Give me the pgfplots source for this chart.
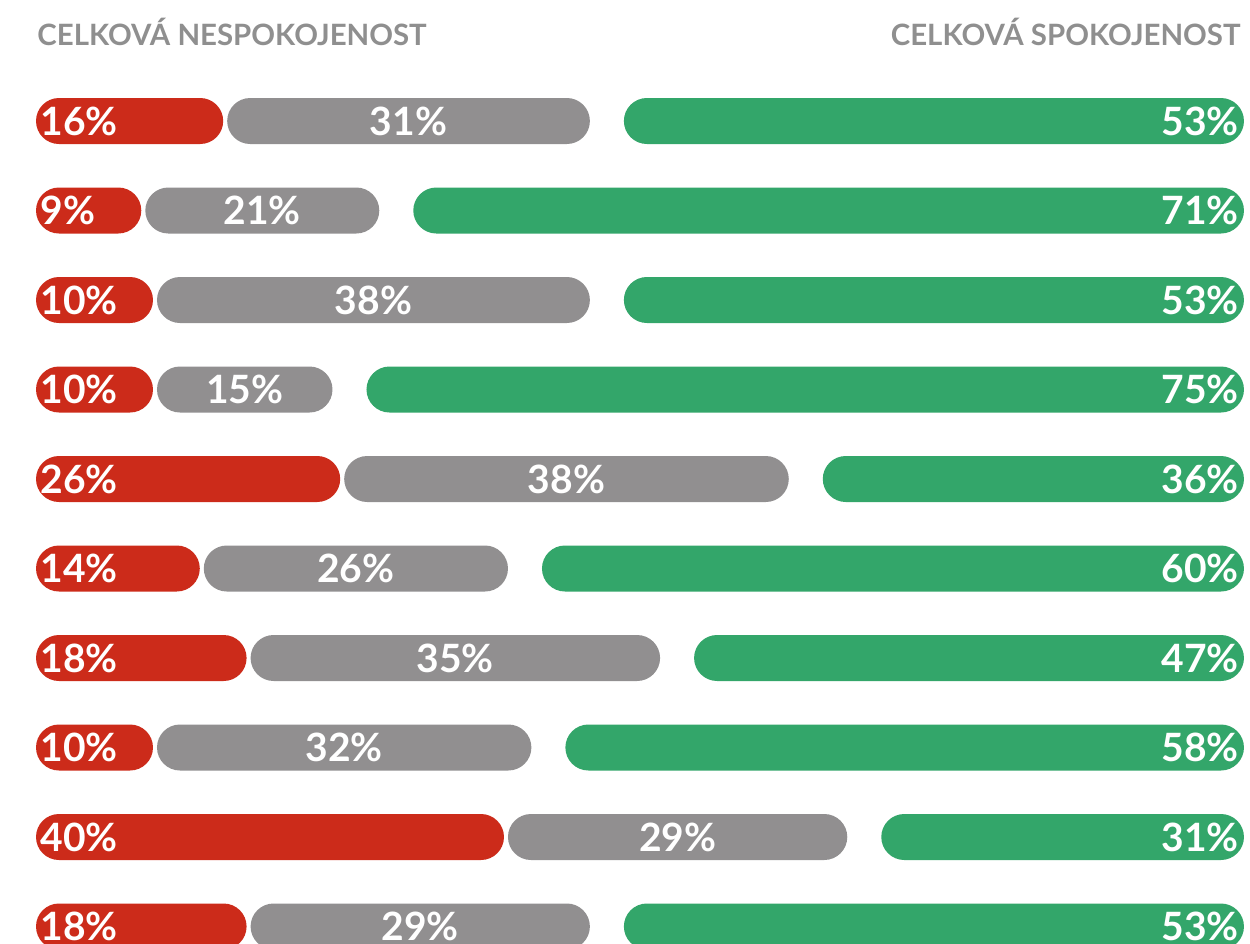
\documentclass[border=0pt]{standalone}
\usepackage{pgfplots}
\pgfplotsset{compat=1.18}
\usepackage{pgfplotstable}
\usepackage{fontspec}
\setmainfont{Lato}
\definecolor{cred}{RGB}{204,43,26}
\definecolor{cgray}{RGB}{145,143,144}
\definecolor{cgreen}{RGB}{51,166,106}
\definecolor{ctitle}{RGB}{143,143,143}

\pgfplotstableread{
row red g1 gray g2 green rl gl sl
1 16 0.342 31 2.906 53 16 31 53
2 9 0.342 20 2.906 71 9 21 71
3 10 0.342 37 2.906 53 10 38 53
4 10 0.342 15 2.906 75 10 15 75
5 26 0.342 38 2.906 36 26 38 36
6 14 0.342 26 2.906 60 14 26 60
7 18 0.342 35 2.906 47 18 35 47
8 10 0.342 32 2.906 58 10 32 58
9 40 0.342 29 2.906 31 40 29 31
10 18 0.342 29 2.906 53 18 29 53
}\data

\pgfplotsset{myaxis/.style={scale only axis, width=604pt, height=447.5pt,
  xmin=0, xmax=103.25, ymin=0.5, ymax=10.5, y dir=reverse, axis lines=none,
  at={(18pt,433.875pt)}, anchor=north west, clip=false}}
\newcommand\lab{\fontsize{19.5pt}{21pt}\selectfont\bfseries}

\begin{document}
\begin{tikzpicture}
\begin{axis}[myaxis, xbar stacked, bar width=23pt]
\addplot[fill=cred, draw=none, rounded corners=11.5pt] table[x=red, y=row]{\data};
\addplot[fill=none, draw=none] table[x=g1, y=row]{\data};
\addplot[fill=cgray, draw=none, rounded corners=11.5pt] table[x=gray, y=row]{\data};
\addplot[fill=none, draw=none] table[x=g2, y=row]{\data};
\addplot[fill=cgreen, draw=none, rounded corners=11.5pt] table[x=green, y=row]{\data};
\end{axis}
\begin{axis}[myaxis]
\addplot[draw=none, mark=none, nodes near coords={\pgfplotspointmeta\%}, point meta=explicit symbolic,
  nodes near coords style={anchor=west, text=white, font=\lab, inner xsep=2pt}]
  table[x expr=0, y=row, meta=rl]{\data};
\addplot[draw=none, mark=none, nodes near coords={\pgfplotspointmeta\%}, point meta=explicit symbolic,
  nodes near coords style={anchor=center, text=white, font=\lab}]
  table[x expr=\thisrow{red}+\thisrow{g1}+0.5*\thisrow{gray}, y=row, meta=gl]{\data};
\addplot[draw=none, mark=none, nodes near coords={\pgfplotspointmeta\%}, point meta=explicit symbolic,
  nodes near coords style={anchor=east, text=white, font=\lab, inner xsep=2.5pt}]
  table[x expr=103.25, y=row, meta=sl]{\data};
\end{axis}
\node[anchor=base west, inner sep=0pt, text=ctitle, font=\fontsize{14.7pt}{16pt}\selectfont\bfseries] at (18.5pt,449pt) {CELKOVÁ NESPOKOJENOST};
\node[anchor=base east, inner sep=0pt, text=ctitle, font=\fontsize{14.7pt}{16pt}\selectfont\bfseries] at (620.5pt,449pt) {CELKOVÁ SPOKOJENOST};
\pgfresetboundingbox
\useasboundingbox (0,0) rectangle (625pt,472pt);
\end{tikzpicture}
\end{document}
